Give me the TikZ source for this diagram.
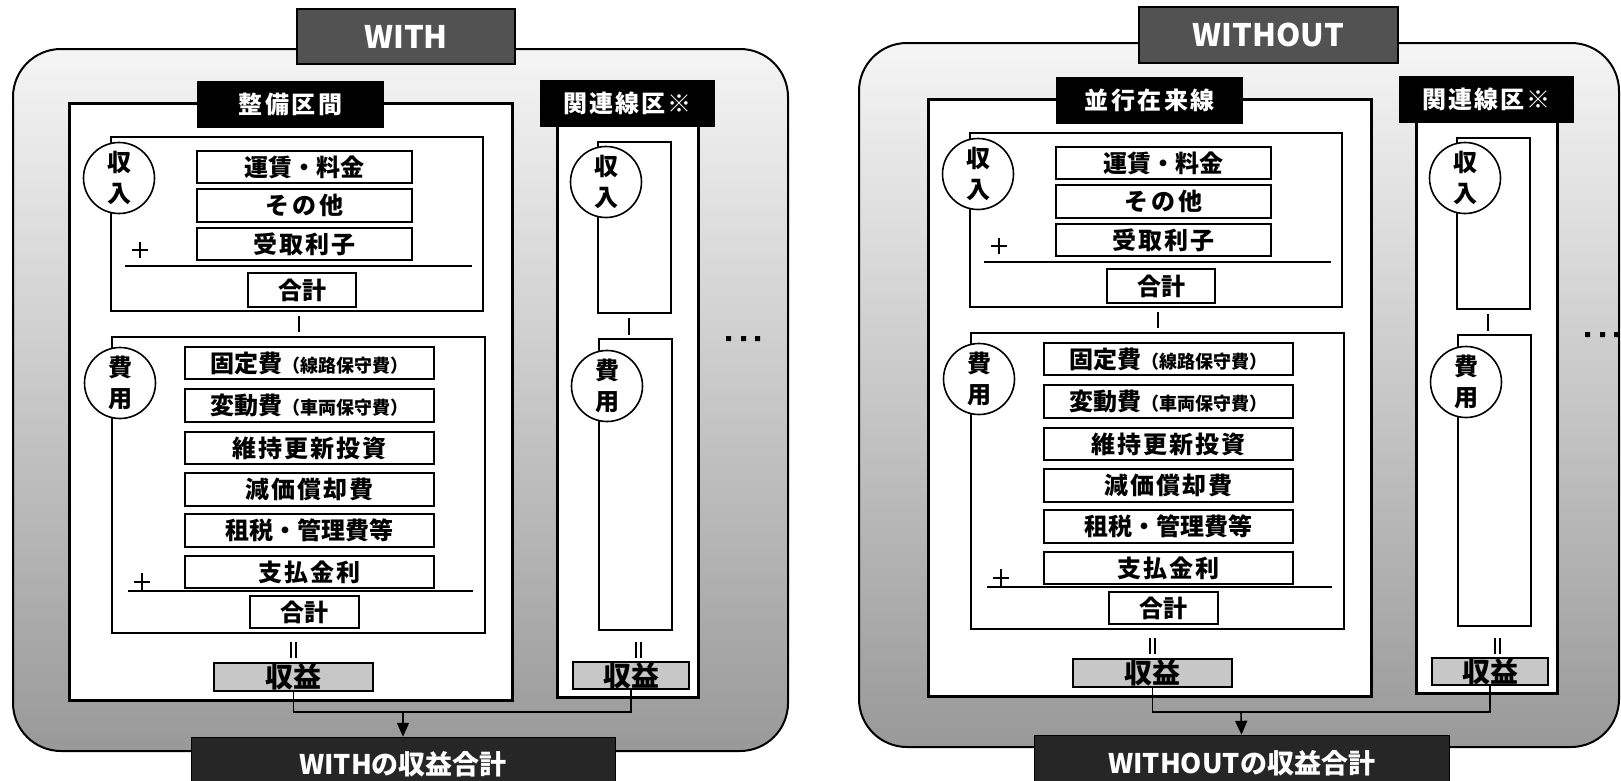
\documentclass[tikz,border=0pt]{standalone}
\usepackage{fontspec}
\setmainfont{Noto Sans CJK JP}
\usetikzlibrary{arrows.meta}
\newcommand\bx[7]{\node[#6,inner sep=0pt,minimum width={#4-#2},minimum height={#5-#3}] (#1) at ({(#2+#4)/2},{(#3+#5)/2}) {#7};}
\newcommand\panelinner[2]{%
 \bx{#1panel}{69}{103}{512}{700}{panelbx}{}
 \bx{#1title}{197}{81}{384}{128}{blkhdr}{#2}
 % revenue
 \bx{#1rev}{111}{137}{483}{311}{subbx}{}
 \node[circ] (#1revc) at (119,178) {収\\入};
 \bx{#1r1}{197}{151}{412}{183}{itm}{運賃・料金}
 \bx{#1r2}{197}{189}{412}{222}{itm}{そ\kern3pt の\kern3pt 他}
 \bx{#1r3}{197}{228}{412}{260}{itm}{受\kern2pt 取\kern2pt 利\kern2pt 子}
 \draw[sym] (132,250) -- (148,250) (140,242) -- (140,258);
 \draw[rule] (125,266) -- (472,266);
 \bx{#1rsum}{248}{273}{356}{307}{itm}{合計}
 \draw[sym] (299,316) -- (299,332);
 % cost
 \bx{#1cost}{112}{337}{485}{633}{subbx}{}
 \node[circ] (#1costc) at (120,383) {費\\用};
 \bx{#1c1}{185}{347}{434}{379}{itm}{固定費{\fontsize{18}{18}\selectfont（線路保守費）}}
 \bx{#1c2}{185}{389}{434}{422}{itm}{変動費{\fontsize{18}{18}\selectfont（車両保守費）}}
 \bx{#1c3}{185}{432}{434}{464}{itm}{維\kern2pt 持\kern2pt 更\kern2pt 新\kern2pt 投\kern2pt 資}
 \bx{#1c4}{185}{473}{434}{506}{itm}{減\kern2pt 価\kern2pt 償\kern2pt 却\kern2pt 費}
 \bx{#1c5}{185}{514}{434}{547}{itm}{租税・管理費等}
 \bx{#1c6}{185}{556}{434}{588}{itm}{支\kern2pt 払\kern2pt 金\kern2pt 利}
 \draw[sym] (134,582) -- (150,582) (142,573) -- (142,591);
 \draw[rule] (128,591) -- (473,591);
 \bx{#1csum}{250}{596}{359}{628}{itm}{合計}
 \draw[sym] (291,642) -- (291,658) (296,642) -- (296,658);
 \bx{#1prof}{214}{663}{373}{691}{prof}{収益}
 % related lines
 \bx{#1relpanel}{557}{110}{698}{697}{panelbx}{}
 \bx{#1reltitle}{540}{80}{715}{127}{blkhdr}{関\kern2pt 連\kern2pt 線\kern2pt 区\kern2pt ※}
 \bx{#1relrev}{598}{142}{671}{313}{subbx}{}
 \node[circ] (#1relrevc) at (606,182) {収\\入};
 \draw[sym] (629,318) -- (629,335);
 \bx{#1relcost}{599}{339}{672}{630}{subbx}{}
 \node[circ] (#1relcostc) at (607,386) {費\\用};
 \draw[sym] (636,642) -- (636,658) (641,642) -- (641,658);
 \bx{#1relprof}{573}{663}{689}{688}{prof}{収益}
 \fill (726,336) rectangle (731,341) (741,336) rectangle (746,341) (755,336) rectangle (760,341);
}
\begin{document}
\begin{tikzpicture}[x=1pt,y=-1pt,
  frm/.style={draw=black,line width=2pt,rounded corners=48pt,top color=black!4,middle color=black!13,bottom color=black!40},
  darkhdr/.style={draw=black,line width=1.5pt,fill=black!68,text=white,font=\bfseries\fontsize{31}{31}\selectfont},
  blkhdr/.style={fill=black,text=white,font=\bfseries\fontsize{24}{24}\selectfont},
  panelbx/.style={draw=black,line width=3pt,fill=white},
  subbx/.style={draw=black,line width=2pt},
  circ/.style={circle,draw=black,line width=1.6pt,fill=white,minimum size=71pt,inner sep=0pt,align=center,font=\bfseries\fontsize{24}{31}\selectfont},
  itm/.style={draw=black,line width=1.6pt,fill=white,font=\bfseries\fontsize{24}{24}\selectfont},
  prof/.style={draw=black,line width=2pt,fill=black!22,font=\bfseries\fontsize{28}{28}\selectfont},
  bot/.style={draw=black,fill=black!85,text=white,font=\bfseries\fontsize{27}{27}\selectfont},
  sym/.style={line width=1.6pt},
  rule/.style={line width=2pt},
  conn/.style={line width=1.6pt}]
\useasboundingbox (0,0) rectangle (1621,780);
\begin{scope}
\clip (0,0) rectangle (1621,780);
% ---------- WITH ----------
\draw[frm] (13,49) rectangle (788,751);
\bx{Lhead}{297}{9}{515}{64}{darkhdr}{WITH}
\panelinner{L}{整\kern2.5pt 備\kern2.5pt 区\kern2.5pt 間}
\coordinate (Lbus) at (403,712);
\draw[conn] (Lprof.south) -- (Lprof.south |- Lbus) -- (Lrelprof.south |- Lbus) -- (Lrelprof.south);
\bx{Lbot}{191}{737}{615}{792}{bot}{WITHの収益合計}
\draw[conn,-{Triangle[length=14pt,width=12pt]}] (Lbus) -- (Lbot.north);
% ---------- WITHOUT ----------
\draw[frm] (859,43) rectangle (1619,747);
\bx{Rhead}{1139}{7}{1398}{63}{darkhdr}{WITHOUT}
\begin{scope}[shift={(859,-4)}]
\panelinner{R}{並\kern2.5pt 行\kern2.5pt 在\kern2.5pt 来\kern2.5pt 線}
\end{scope}
\coordinate (Rbus) at (1241,712);
\draw[conn] (Rprof.south) -- (Rprof.south |- Rbus) -- (Rrelprof.south |- Rbus) -- (Rrelprof.south);
\bx{Rbot}{1034}{735}{1449}{792}{bot}{WITHOUTの収益合計}
\draw[conn,-{Triangle[length=14pt,width=12pt]}] (Rbus) -- (Rbot.north);
\end{scope}
\end{tikzpicture}
\end{document}
